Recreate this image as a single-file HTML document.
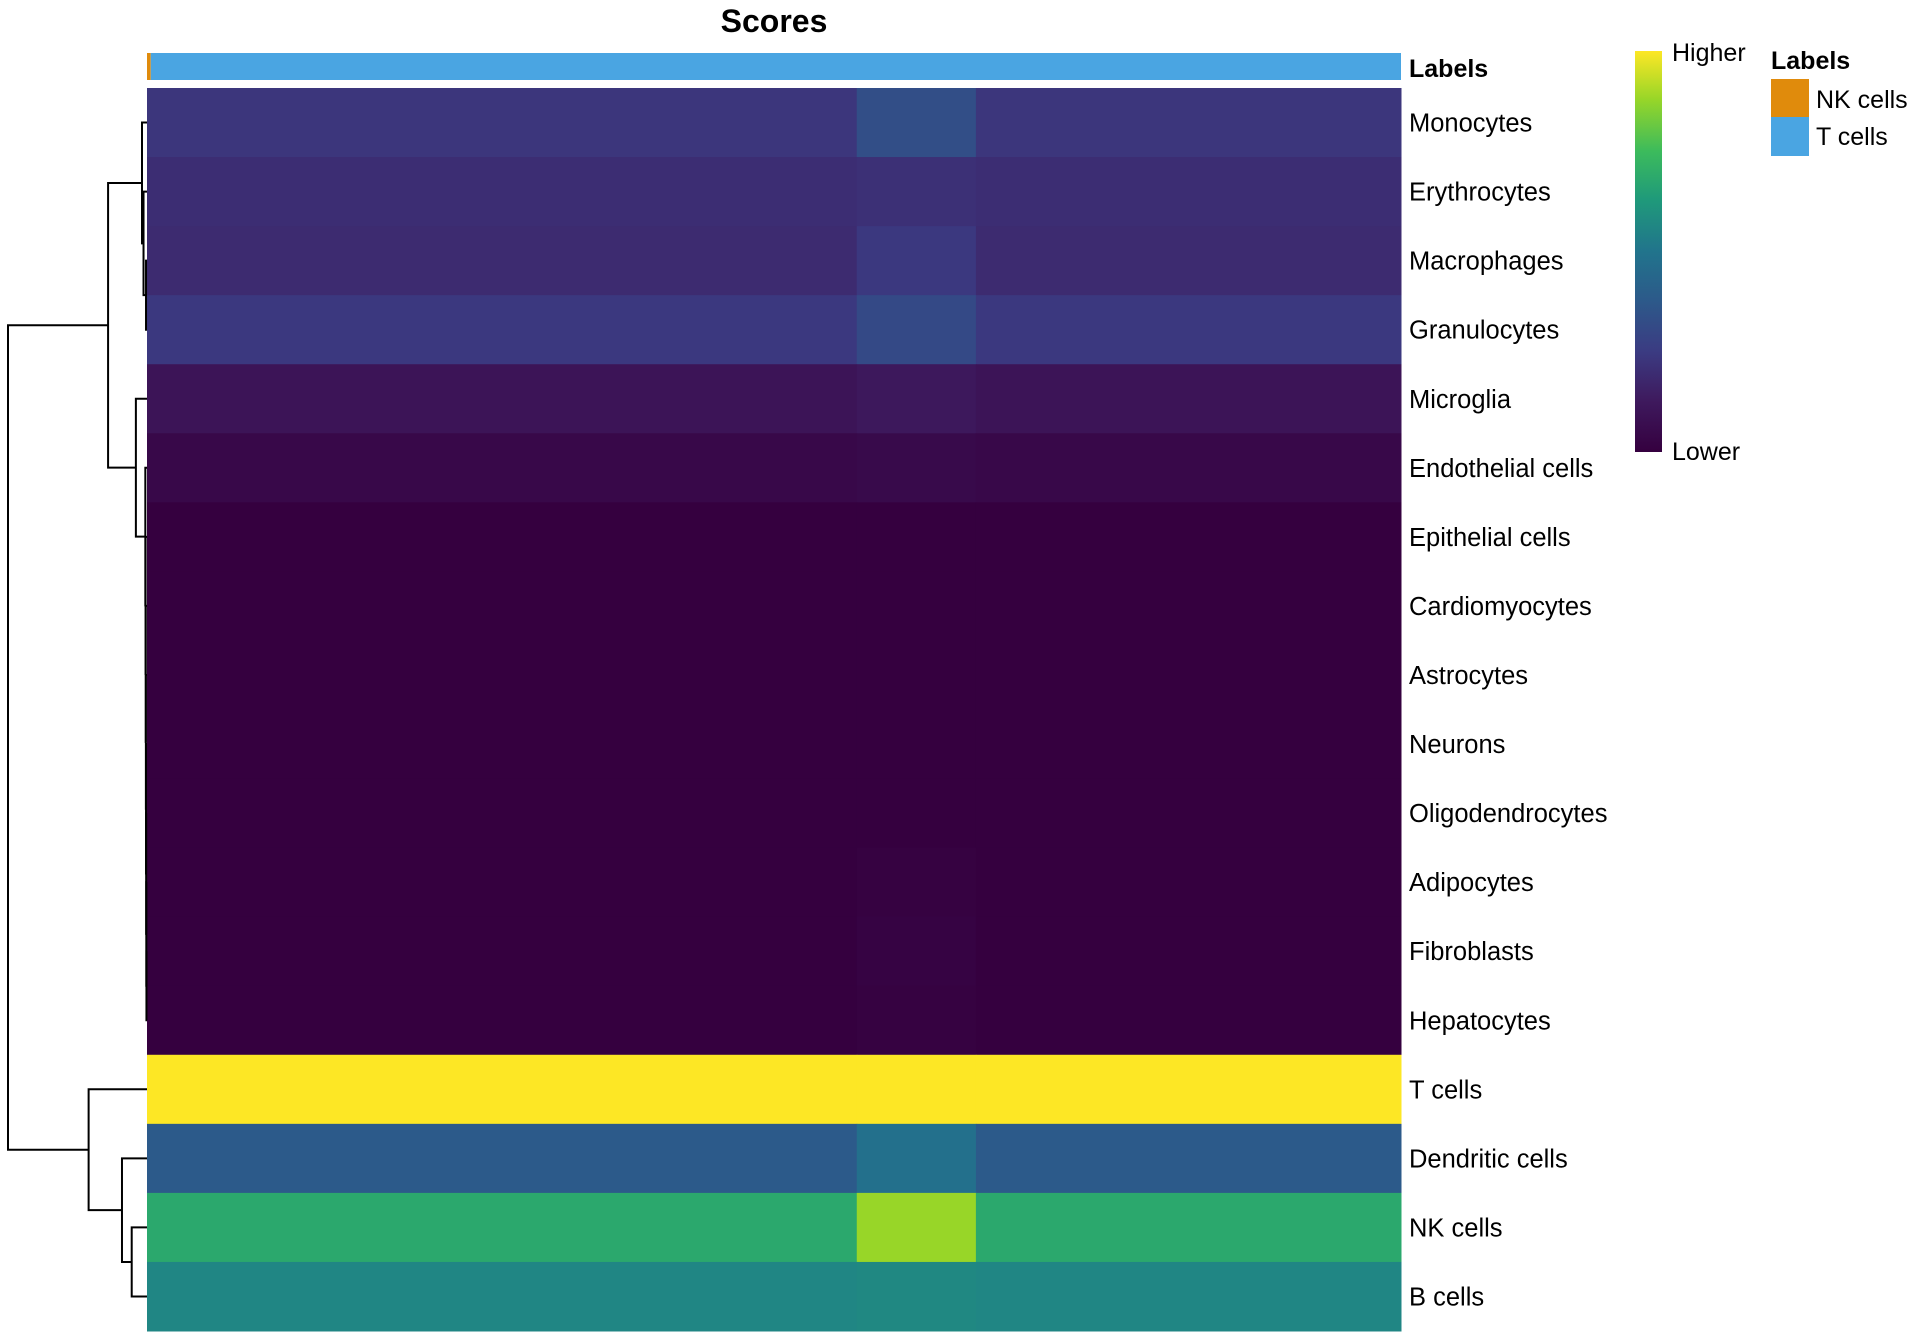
<!DOCTYPE html>
<html><head><meta charset="utf-8"><style>
body{margin:0;background:#fff;}
svg{display:block;font-family:"Liberation Sans",Arial,sans-serif;}
</style></head><body>
<svg id="chart" width="1920" height="1344" viewBox="0 0 1920 1344">
<text x="774" y="32" font-size="32" font-weight="bold" text-anchor="middle">Scores</text>
<g id="annot"></g>
<g id="cells"></g>
<g id="rowlabels"></g>
<g id="dendro" stroke="#000" stroke-width="2" fill="none"></g>
<text x="1409" y="77" font-size="25" font-weight="bold">Labels</text>
<defs><linearGradient id="vg" x1="0" y1="1" x2="0" y2="0">
<stop offset="0" stop-color="#35003f"/><stop offset="0.13" stop-color="#3e1a5e"/><stop offset="0.25" stop-color="#3b3b82"/><stop offset="0.38" stop-color="#2c5a8a"/><stop offset="0.5" stop-color="#21748c"/><stop offset="0.63" stop-color="#1f9a7a"/><stop offset="0.75" stop-color="#3cbb5c"/><stop offset="0.88" stop-color="#98d628"/><stop offset="1" stop-color="#fde725"/></linearGradient></defs>
<rect x="1635" y="51" width="27" height="401" fill="url(#vg)"/>
<text x="1672" y="61" font-size="25">Higher</text>
<text x="1672" y="460" font-size="25">Lower</text>
<text x="1771" y="69" font-size="25" font-weight="bold">Labels</text>
<rect x="1771" y="79" width="38" height="38" fill="#e08b0c"/>
<text x="1816" y="108" font-size="25">NK cells</text>
<rect x="1771" y="117" width="38" height="39" fill="#4aa5e2"/>
<text x="1816" y="145" font-size="25">T cells</text>
</svg>
<script>
const rows=["Monocytes","Erythrocytes","Macrophages","Granulocytes","Microglia","Endothelial cells","Epithelial cells","Cardiomyocytes","Astrocytes","Neurons","Oligodendrocytes","Adipocytes","Fibroblasts","Hepatocytes","T cells","Dendritic cells","NK cells","B cells"];
const segments=[0,0.566,0.661,1];
const segA=[0.23,0.2,0.19,0.24,0.1,0.04,0,0,0,0,0,0,0,0,1,0.38,0.68,0.56];
const segB=[0.33,0.21,0.24,0.31,0.12,0.05,0,0,0,0,0,0.01,0.015,0.01,1,0.48,0.88,0.57];
const segC=[0.23,0.2,0.19,0.24,0.1,0.04,0,0,0,0,0,0,0,0,1,0.38,0.68,0.56];
const annotation=["NK cells","T cells"];
const annotationFrac=[0.003,0.997];
const merges=[[2,3,0.007],[1,"n0",0.025],[0,"n1",0.036],[12,13,0.004],[11,"n3",0.005],[10,"n4",0.006],[9,"n5",0.007],[8,"n6",0.008],[7,"n7",0.009],[6,"n8",0.01],[5,"n9",0.012],[4,"n10",0.08],["n2","n11",0.28],[16,17,0.11],[15,"n13",0.18],[14,"n14",0.42],["n12","n15",1.0]];
const X0=147,X1=1401,Y0=88,Y1=1331,NS="http://www.w3.org/2000/svg";
const rh=(Y1-Y0)/rows.length;
const stops=[[0,[53,0,63]],[0.13,[62,26,94]],[0.25,[59,59,130]],[0.38,[44,90,138]],[0.5,[33,116,140]],[0.63,[31,154,122]],[0.75,[60,187,92]],[0.88,[152,214,40]],[1,[253,231,37]]];
function col(v){for(let i=1;i<stops.length;i++){if(v<=stops[i][0]){const a=stops[i-1],b=stops[i],t=(v-a[0])/(b[0]-a[0]);return "rgb("+a[1].map((c,k)=>Math.round(c+(b[1][k]-c)*t)).join(",")+")";}}return "rgb(253,231,37)";}
const xs=f=>X0+f*(X1-X0), ys=i=>Y0+i*rh;
const cells=document.getElementById("cells"),segVals=[segA,segB,segC];
rows.forEach((r,i)=>{for(let s=0;s<3;s++){const el=document.createElementNS(NS,"rect");


el.setAttribute("x",xs(segments[s]));el.setAttribute("width",xs(segments[s+1])-xs(segments[s])+0.5);el.setAttribute("y",ys(i));el.setAttribute("height",rh+0.5);el.setAttribute("fill",col(segVals[s][i]));cells.appendChild(el);}
const t=document.createElementNS(NS,"text");


t.setAttribute("x",1409);t.setAttribute("y",ys(i)+rh/2+9);t.setAttribute("font-size","25.5");t.textContent=r;document.getElementById("rowlabels").appendChild(t);});
const an=document.getElementById("annot");let acc=0;
annotation.forEach((a,i)=>{const el=document.createElementNS(NS,"rect");


el.setAttribute("x",xs(acc));el.setAttribute("width",xs(acc+annotationFrac[i])-xs(acc));el.setAttribute("y",53);el.setAttribute("height",27);el.setAttribute("fill",a=="NK cells"?"#e08b0c":"#4aa5e2");an.appendChild(el);acc+=annotationFrac[i];});
const dx=h=>X0-h*(X0-8);
const node={};
function pos(k){if(typeof k==="number")return{y:ys(k)+rh/2,x:X0};return node[k];}
const dg=document.getElementById("dendro");
merges.forEach((m,i)=>{const a=pos(m[0]),b=pos(m[1]),x=dx(m[2]);
const p=document.createElementNS(NS,"path");


p.setAttribute("d",`M${a.x},${a.y}H${x}V${b.y}H${b.x}`);dg.appendChild(p);
node["n"+i]={x:x,y:(a.y+b.y)/2};});
</script>
</body></html>
